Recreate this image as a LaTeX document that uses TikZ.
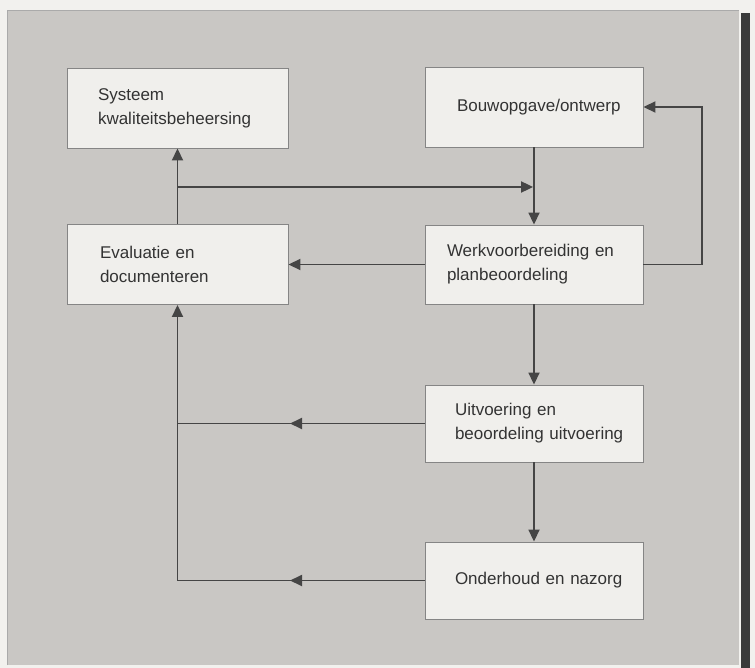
\documentclass[tikz,border=0pt]{standalone}
\usepackage{fontspec}
\setmainfont{Liberation Sans}
\usetikzlibrary{arrows.meta}
\definecolor{paper}{HTML}{F2F1EE}
\definecolor{panel}{HTML}{C9C7C4}
\definecolor{strip}{HTML}{3A3A3A}
\definecolor{boxfill}{HTML}{F0EFEC}
\definecolor{boxline}{HTML}{858585}
\definecolor{ink}{HTML}{454545}
\definecolor{textink}{HTML}{333333}
\begin{document}
\begin{tikzpicture}[x=1pt,y=-1pt,
  flowbox/.style={draw=boxline, line width=0.9pt, fill=boxfill, font=\fontsize{17}{24}\selectfont,
    text=textink, inner ysep=0pt, align=left},
  conn/.style={draw=ink, line width=1.8pt},
  tip/.style={-{Triangle[length=12pt,width=11pt]}}]
\useasboundingbox (0,0) rectangle (755,668);
\fill[paper] (0,0) rectangle (755,668);
\fill[panel] (7,11) rectangle (739,665);
\draw[boxline!70, line width=1pt] (7,665) -- (7,11) -- (739,11);
\fill[strip] (741,13) rectangle (750,668);
% left column
\node[flowbox, text width=159pt, inner xsep=31pt, minimum height=80pt] (sys) at (177.5,108)
  {\mbox{Systeem}\\\mbox{kwaliteitsbeheersing}};
\node[flowbox, text width=155pt, inner xsep=33pt, minimum height=80pt] (eval) at (177.5,264.5)
  {\mbox{Evaluatie en}\\\mbox{documenteren}};
% right column
\node[flowbox, text width=154pt, inner xsep=32pt, minimum height=80pt, align=center] (bouw) at (534,107)
  {\mbox{Bouwopgave/ontwerp}};
\node[flowbox, text width=174pt, inner xsep=22pt, minimum height=79pt] (werk) at (534,264.5)
  {\mbox{Werkvoorbereiding en}\\\mbox{planbeoordeling}};
\node[flowbox, text width=158pt, inner xsep=30pt, minimum height=77pt] (uit) at (534,423.5)
  {\mbox{Uitvoering en}\\\mbox{beoordeling uitvoering}};
\node[flowbox, text width=158pt, inner xsep=30pt, minimum height=77pt] (ond) at (534,580.5)
  {\mbox{Onderhoud en nazorg}};
% coordinates
\coordinate (jl) at (177.5,187);
\coordinate (jr) at (534,187);
\coordinate (fbR) at (702,264.5);
\coordinate (fbT) at (702,107);
\coordinate (uL) at (177.5,423.5);
\coordinate (oL) at (177.5,580.5);
\coordinate (uM) at (290,423.5);
\coordinate (oM) at (290,580.5);
% connectors
\draw[conn,tip] (eval.north) -- (sys.south);
\draw[conn,tip] (jl) -- ([xshift=-0.9pt]jr);
\draw[conn,tip] (bouw.south) -- (werk.north);
\draw[conn,tip] (werk.west) -- (eval.east);
\draw[conn,tip] (werk.east) -- (fbR) -- (fbT) -- (bouw.east);
\draw[conn,tip] (werk.south) -- (uit.north);
\draw[conn,tip] (uit.south) -- (ond.north);
\draw[conn] (uit.west) -- (uL);
\draw[conn,tip] (uit.west) -- (uM);
\draw[conn] (ond.west) -- (oL) -- (uL);
\draw[conn,tip] (ond.west) -- (oM);
\draw[conn,tip] (uL) -- (eval.south);
\end{tikzpicture}
\end{document}
